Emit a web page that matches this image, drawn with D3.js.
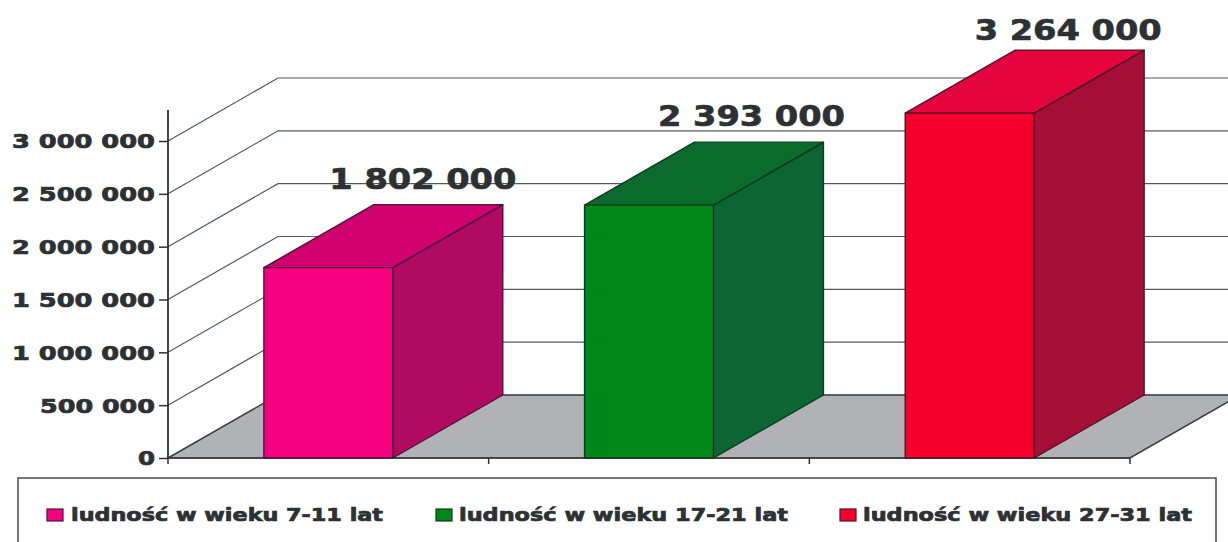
<!DOCTYPE html>
<html><head><meta charset="utf-8">
<script src="https://cdnjs.cloudflare.com/ajax/libs/d3/7.8.5/d3.min.js"></script>
<style>html,body{margin:0;padding:0;background:#fff;overflow:hidden}svg{display:block}
text{font-family:"DejaVu Sans",sans-serif;font-weight:700;fill:#2d3133;stroke:#2d3133;stroke-width:.7px;paint-order:stroke}</style></head><body>
<script>
const categories = ["ludność w wieku 7-11 lat","ludność w wieku 17-21 lat","ludność w wieku 27-31 lat"];
const values = [1802000,2393000,3264000];
const tickValues = [0,500000,1000000,1500000,2000000,2500000,3000000];
const frontColors = ["#f5007f","#00871a","#f5002d"];
const topColors = ["#d0006f","#0b6b2c","#e4053f"];
const sideColors = ["#b00b60","#0e6534","#a50e37"];
const edgeColors = ["#4a1440","#0c3a1e","#521226"];

const W=1228,H=542, dx=110, dy=-63;
const svg=d3.select("body").append("svg").attr("width",W).attr("height",H);
const y=d3.scaleLinear().domain([0,3000000]).range([458,141]);
const x=d3.scaleBand().domain(categories).range([168,1130]).paddingInner(.598).paddingOuter(.299);
const fmt=v=>d3.format(",")(v).replace(/,/g," ");
const poly=p=>p.map(q=>q.join(",")).join(" ");

// floor
svg.append("polygon").attr("points",poly([[168,458],[168+dx,458+dy],[1240,458+dy],[1130,458]]))
  .attr("fill","#b0b2b5").attr("stroke","#3a3d40").attr("stroke-width",1.5);
// wall gridlines
svg.append("g").selectAll("polyline").data(tickValues.slice(1)).join("polyline")
  .attr("points",d=>poly([[168,y(d)],[168+dx,y(d)+dy],[W,y(d)+dy]]))
  .attr("fill","none").attr("stroke","#55585a").attr("stroke-width",1.2);
svg.append("line").attr("x1",168+dx).attr("x2",W).attr("y1",y(0)+dy).attr("y2",y(0)+dy).attr("stroke","#55585a").attr("stroke-width",1.2);

// y axis
const gy=svg.append("g").attr("transform","translate(168,0)")
  .call(d3.axisLeft(y).tickValues(tickValues).tickFormat(fmt).tickSize(9).tickSizeOuter(0));
gy.select(".domain").remove();
gy.selectAll("line").attr("stroke","#2d3133").attr("stroke-width",1.5);
gy.selectAll("text").attr("x",-13).attr("dy","0.36em").style("font-size","19px")
  .attr("textLength",d=>fmt(d).length===9?143:(d===0?17:115)).attr("lengthAdjust","spacingAndGlyphs");
svg.append("line").attr("x1",168).attr("x2",168).attr("y1",110).attr("y2",458).attr("stroke","#2d3133").attr("stroke-width",1.8);
// x axis ticks
const step=x.step();
svg.append("g").selectAll("line").data(d3.range(4)).join("line")
  .attr("x1",i=>168+i*step).attr("x2",i=>168+i*step).attr("y1",458).attr("y2",464)
  .attr("stroke","#2d3133").attr("stroke-width",1.5);
svg.append("line").attr("x1",168).attr("x2",1130).attr("y1",458).attr("y2",458).attr("stroke","#3a3d40").attr("stroke-width",1.5);

// data labels under the bars' faces
const labelNudge=[[94.5,-79],[102.5,-79],[98.5,-73]];
svg.append("g").selectAll("text").data(values).join("text")
  .attr("x",(d,i)=>x(categories[i])+x.bandwidth()/2+labelNudge[i][0])
  .attr("y",(d,i)=>y(d)+labelNudge[i][1])
  .attr("text-anchor","middle").style("font-size","29px")
  .attr("textLength",187).attr("lengthAdjust","spacingAndGlyphs").text(fmt);

// bars
const bars=svg.append("g").selectAll("g").data(values).join("g")
  .attr("stroke",(d,i)=>edgeColors[i]).attr("stroke-width",1.4).attr("stroke-linejoin","round");
const bw=x.bandwidth();
bars.append("polygon").attr("fill",(d,i)=>sideColors[i]).attr("points",(d,i)=>{const a=x(categories[i])+bw;
  return poly([[a,y(d)],[a+dx,y(d)+dy],[a+dx,y(0)+dy],[a,y(0)]]);});
bars.append("polygon").attr("fill",(d,i)=>topColors[i]).attr("points",(d,i)=>{const a=x(categories[i]);
  return poly([[a,y(d)],[a+dx,y(d)+dy],[a+bw+dx,y(d)+dy],[a+bw,y(d)]]);});
bars.append("rect").attr("fill",(d,i)=>frontColors[i]).attr("x",(d,i)=>x(categories[i])).attr("width",bw)
  .attr("y",d=>y(d)).attr("height",d=>y(0)-y(d));

// legend
svg.append("path").attr("d","M18,543V478H1216V543").attr("fill","none").attr("stroke","#4a4d4f").attr("stroke-width",1.5);
const legendX=[47,436,840], legendW=[312,329,329];
const lg=svg.append("g").selectAll("g").data(categories).join("g");
lg.append("rect").attr("x",(d,i)=>legendX[i]).attr("y",509).attr("width",16).attr("height",12)
  .attr("fill",(d,i)=>frontColors[i]).attr("stroke",(d,i)=>edgeColors[i]).attr("stroke-width",1.2);
lg.append("text").attr("x",(d,i)=>legendX[i]+(i==0?24:23)).attr("y",521).style("font-size","17px")
  .attr("textLength",(d,i)=>legendW[i]).attr("lengthAdjust","spacingAndGlyphs").text(d=>d);
</script></body></html>
